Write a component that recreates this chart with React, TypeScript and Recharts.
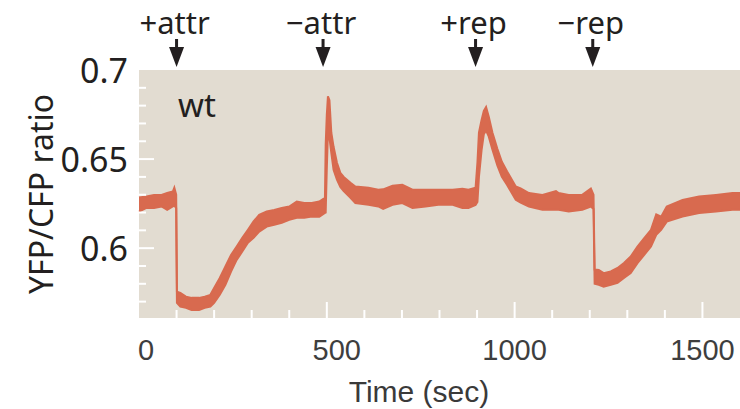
import {
  ComposedChart,
  Area,
  XAxis,
  YAxis,
  CartesianGrid,
  ReferenceLine,
} from "recharts";

// Trace sampled in seconds; each sample keeps the low/high edge of the noisy band.
const timeSec = [
  0, 20, 40, 60, 75, 90, 94, 99, 101, 110, 125, 140, 160, 175, 190, 200, 215, 230, 245, 260,
  275, 290, 305, 320, 340, 360, 380, 400, 420, 440, 460, 480, 495, 497, 500, 503, 507, 512, 518, 527,
  536, 545, 563, 576, 611, 637, 650, 675, 701, 728, 763, 797, 835, 861, 877, 896, 901, 905, 912, 918,
  924, 931, 941, 954, 966, 980, 1003, 1016, 1038, 1074, 1110, 1117, 1144, 1180, 1203, 1210, 1213, 1224, 1237, 1256,
  1274, 1291, 1309, 1327, 1345, 1363, 1377, 1390, 1405, 1447, 1491, 1536, 1580, 1600,
];

const ratioLow = [
  0.6205, 0.6226, 0.6226, 0.6234, 0.6215, 0.6234, 0.624, 0.6225, 0.5693, 0.5672, 0.5665, 0.5653, 0.5653, 0.5665, 0.5672, 0.5693, 0.5738, 0.5794, 0.5869, 0.5934,
  0.5981, 0.603, 0.6058, 0.6093, 0.6121, 0.6131, 0.6142, 0.6159, 0.617, 0.617, 0.6177, 0.6177, 0.6198, 0.62, 0.645, 0.665, 0.662, 0.6535, 0.644, 0.6384,
  0.6344, 0.632, 0.6283, 0.6253, 0.6243, 0.6234, 0.622, 0.6243, 0.6253, 0.6225, 0.6234, 0.6243, 0.6243, 0.6226, 0.6226, 0.6243, 0.626, 0.64, 0.655, 0.664,
  0.666, 0.6627, 0.6552, 0.6465, 0.64, 0.6355, 0.6271, 0.6255, 0.6234, 0.6215, 0.6215, 0.6215, 0.6206, 0.6215, 0.6234, 0.622, 0.58, 0.5794, 0.5784, 0.5794,
  0.5805, 0.5833, 0.586, 0.5916, 0.5962, 0.6009, 0.6075, 0.6103, 0.6149, 0.6177, 0.6197, 0.6206, 0.6215, 0.6215,
];

const ratioHigh = [
  0.6285, 0.629, 0.6299, 0.6299, 0.631, 0.6318, 0.6339, 0.63, 0.5756, 0.5749, 0.5728, 0.5721, 0.5721, 0.5728, 0.5738, 0.5777, 0.5833, 0.5897, 0.5962, 0.6009,
  0.6058, 0.6103, 0.615, 0.6187, 0.6206, 0.6215, 0.6226, 0.6234, 0.6262, 0.6254, 0.6254, 0.6262, 0.6283, 0.658, 0.675, 0.6852, 0.683, 0.6648, 0.6569, 0.6479,
  0.6423, 0.64, 0.6367, 0.6346, 0.6339, 0.6328, 0.633, 0.635, 0.6356, 0.6328, 0.6328, 0.6328, 0.6328, 0.6333, 0.6328, 0.6339, 0.648, 0.6648, 0.672, 0.677,
  0.6792, 0.6739, 0.6648, 0.6558, 0.6485, 0.643, 0.6346, 0.6335, 0.6309, 0.6299, 0.632, 0.6309, 0.6299, 0.6299, 0.6335, 0.63, 0.588, 0.5878, 0.586, 0.5869,
  0.5889, 0.5917, 0.5953, 0.6009, 0.6056, 0.6103, 0.619, 0.6177, 0.6234, 0.6271, 0.629, 0.6299, 0.6309, 0.6309,
];

// Stimulus events marked above the plot
const eventTimes = [100, 490, 896, 1208];
const eventLabels = ["+attr", "\u2212attr", "+rep", "\u2212rep"];

const xTicks = [0, 100, 200, 300, 400, 500, 600, 700, 800, 900, 1000, 1100, 1200, 1300, 1400, 1500];
const xMajor = [0, 500, 1000, 1500];
const yTicks = [0.57, 0.58, 0.59, 0.6, 0.61, 0.62, 0.63, 0.64, 0.65, 0.66, 0.67, 0.68, 0.69, 0.7];
const yMajor = [0.6, 0.65, 0.7];
const yMajorLabels = ["0.6", "0.65", "0.7"];

const data = timeSec.map((t, i) => ({ t, band: [ratioLow[i], ratioHigh[i]] }));

const TRACE = "#d86a4f";
const PANEL = "#e2dcd1";
const INK = "#231f20";
const SANS = '"Noto Sans", "Open Sans", sans-serif';
const ARIAL = '"Liberation Sans", Arial, sans-serif';

// label nudges so the numbers sit like the printed axis
const xLabelShift: Record<number, number> = { 0: 7, 500: 10 };

function TimeTick({ x, y, payload }: any) {
  const v = payload.value as number;
  const major = xMajor.includes(v);
  return (
    <g>
      {v > 0 && (
        <line x1={x} x2={x} y1={y} y2={y - (major ? 16 : 8)} stroke="#fff" strokeWidth={2} />
      )}
      {major && (
        <text
          x={x + (xLabelShift[v] ?? 0)}
          y={y + 42}
          textAnchor="middle"
          fontSize={29}
          fontFamily={ARIAL}
          fill="#3e3e3e"
        >
          {v}
        </text>
      )}
    </g>
  );
}

function RatioTick({ x, y, payload }: any) {
  const v = payload.value as number;
  const idx = yMajor.findIndex((m) => Math.abs(m - v) < 1e-6);
  const major = idx >= 0;
  return (
    <g>
      {v < 0.699 && (
        <line x1={x} x2={x + (major ? 15 : 7)} y1={y} y2={y} stroke="#fff" strokeWidth={2} />
      )}
      {major && (
        <text x={x - 11} y={y + 12.5} textAnchor="end" fontSize={34} fontFamily={SANS} fill={INK}>
          {yMajorLabels[idx]}
        </text>
      )}
    </g>
  );
}

function EventMark({ viewBox, text }: any) {
  const { x, y } = viewBox;
  return (
    <g>
      <text x={x - 2} y={y - 36} textAnchor="middle" fontSize={31} fontFamily={SANS} fill={INK}>
        {text}
      </text>
      <rect x={x - 1.5} y={y - 31} width={3} height={9} fill={INK} />
      <polygon points={`${x - 7.5},${y - 23} ${x + 7.5},${y - 23} ${x},${y - 3}`} fill={INK} />
    </g>
  );
}

function TimeTitle({ viewBox }: any) {
  return (
    <text
      x={viewBox.x + 280}
      y={viewBox.y + 84}
      textAnchor="middle"
      fontSize={30}
      fontFamily={ARIAL}
      fill="#3a3a3a"
    >
      Time (sec)
    </text>
  );
}

function RatioTitle({ viewBox }: any) {
  const cx = 40;
  const cy = viewBox.y + viewBox.height / 2;
  return (
    <text
      x={cx}
      y={cy}
      transform={`rotate(-90, ${cx}, ${cy})`}
      textAnchor="middle"
      dominantBaseline="central"
      fontSize={32}
      fontFamily={SANS}
      fill={INK}
    >
      YFP/CFP ratio
    </text>
  );
}

export default function App() {
  return (
    <div style={{ position: "absolute", left: 0, top: 0, width: 740, height: 409, background: "#fff" }}>
      <ComposedChart width={740} height={409} data={data} margin={{ top: 70, right: 0, bottom: 0, left: 0 }}>
        <CartesianGrid horizontal={false} vertical={false} fill={PANEL} />
        <XAxis
          dataKey="t"
          type="number"
          domain={[0, 1600]}
          ticks={xTicks}
          interval={0}
          height={91}
          axisLine={false}
          tickLine={false}
          tickSize={0}
          tickMargin={0}
          tick={<TimeTick />}
          label={<TimeTitle />}
        />
        <YAxis
          type="number"
          domain={[0.5608, 0.7]}
          ticks={yTicks}
          interval={0}
          width={139}
          axisLine={false}
          tickLine={false}
          tickSize={0}
          tickMargin={0}
          tick={<RatioTick />}
          label={<RatioTitle />}
        />
        <Area
          dataKey="band"
          type="linear"
          stroke={TRACE}
          strokeWidth={2}
          fill={TRACE}
          fillOpacity={1}
          dot={false}
          activeDot={false}
          isAnimationActive={false}
        />
        {eventTimes.map((t, i) => (
          <ReferenceLine key={t} x={t} stroke="none" label={<EventMark text={eventLabels[i]} />} />
        ))}
      </ComposedChart>
      <svg width={740} height={409} style={{ position: "absolute", left: 0, top: 0, pointerEvents: "none" }}>
        <text x={178} y={117} fontSize={33} fontFamily={SANS} fill={INK}>
          wt
        </text>
      </svg>
    </div>
  );
}
